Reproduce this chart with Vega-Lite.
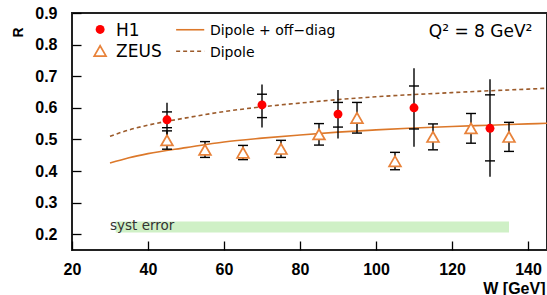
{
  "$schema": "https://vega.github.io/schema/vega-lite/v6.json",
  "width": 475,
  "height": 237,
  "autosize": {"type": "none"},
  "padding": {"left": 72, "top": 13, "right": 0, "bottom": 45},
  "background": "white",
  "config": {"view": {"stroke": "#222", "strokeWidth": 2}},
  "datasets": {
    "band": [{"W": 31.5, "W2": 135, "R": 0.205, "R2": 0.240}],
    "curves": [
      {"model": "Dipole", "W": 30, "R": 0.510}, {"model": "Dipole", "W": 35, "R": 0.530}, {"model": "Dipole", "W": 40, "R": 0.545},
      {"model": "Dipole", "W": 50, "R": 0.568}, {"model": "Dipole", "W": 60, "R": 0.588}, {"model": "Dipole", "W": 70, "R": 0.603},
      {"model": "Dipole", "W": 80, "R": 0.615}, {"model": "Dipole", "W": 90, "R": 0.626}, {"model": "Dipole", "W": 100, "R": 0.635},
      {"model": "Dipole", "W": 110, "R": 0.642}, {"model": "Dipole", "W": 120, "R": 0.648}, {"model": "Dipole", "W": 130, "R": 0.654},
      {"model": "Dipole", "W": 140, "R": 0.659}, {"model": "Dipole", "W": 145, "R": 0.662},
      {"model": "Dipole + off-diag", "W": 30, "R": 0.425}, {"model": "Dipole + off-diag", "W": 35, "R": 0.442}, {"model": "Dipole + off-diag", "W": 40, "R": 0.455},
      {"model": "Dipole + off-diag", "W": 50, "R": 0.474}, {"model": "Dipole + off-diag", "W": 60, "R": 0.492}, {"model": "Dipole + off-diag", "W": 70, "R": 0.504},
      {"model": "Dipole + off-diag", "W": 80, "R": 0.514}, {"model": "Dipole + off-diag", "W": 90, "R": 0.523}, {"model": "Dipole + off-diag", "W": 100, "R": 0.530},
      {"model": "Dipole + off-diag", "W": 110, "R": 0.536}, {"model": "Dipole + off-diag", "W": 120, "R": 0.541}, {"model": "Dipole + off-diag", "W": 130, "R": 0.545},
      {"model": "Dipole + off-diag", "W": 140, "R": 0.549}, {"model": "Dipole + off-diag", "W": 145, "R": 0.551}
    ],
    "h1": [
      {"W": 45, "R": 0.562}, {"W": 70, "R": 0.609}, {"W": 90, "R": 0.580}, {"W": 110, "R": 0.600}, {"W": 130, "R": 0.535}
    ],
    "h1tot": [
      {"W": 45, "R": 0.507, "R2": 0.616}, {"W": 70, "R": 0.538, "R2": 0.674}, {"W": 90, "R": 0.503, "R2": 0.656},
      {"W": 110, "R": 0.477, "R2": 0.725}, {"W": 130, "R": 0.382, "R2": 0.690}
    ],
    "h1caps": [
      {"W": 45, "R": 0.537}, {"W": 45, "R": 0.587},
      {"W": 70, "R": 0.569}, {"W": 70, "R": 0.643},
      {"W": 90, "R": 0.539}, {"W": 90, "R": 0.617},
      {"W": 110, "R": 0.533}, {"W": 110, "R": 0.669},
      {"W": 130, "R": 0.432}, {"W": 130, "R": 0.641}
    ],
    "zeus": [
      {"W": 45, "R": 0.497}, {"W": 55, "R": 0.467}, {"W": 65, "R": 0.458}, {"W": 75, "R": 0.470}, {"W": 85, "R": 0.516},
      {"W": 95, "R": 0.568}, {"W": 105, "R": 0.431}, {"W": 115, "R": 0.508}, {"W": 125, "R": 0.535}, {"W": 135, "R": 0.508}
    ],
    "zeusbar": [
      {"W": 45, "R": 0.469, "R2": 0.527}, {"W": 55, "R": 0.443, "R2": 0.493}, {"W": 65, "R": 0.436, "R2": 0.481},
      {"W": 75, "R": 0.443, "R2": 0.497}, {"W": 85, "R": 0.482, "R2": 0.550}, {"W": 95, "R": 0.520, "R2": 0.617},
      {"W": 105, "R": 0.404, "R2": 0.459}, {"W": 115, "R": 0.467, "R2": 0.549}, {"W": 125, "R": 0.488, "R2": 0.582},
      {"W": 135, "R": 0.462, "R2": 0.554}
    ],
    "zeuscaps": [
      {"W": 45, "R": 0.469}, {"W": 45, "R": 0.527}, {"W": 55, "R": 0.443}, {"W": 55, "R": 0.493},
      {"W": 65, "R": 0.436}, {"W": 65, "R": 0.481}, {"W": 75, "R": 0.443}, {"W": 75, "R": 0.497},
      {"W": 85, "R": 0.482}, {"W": 85, "R": 0.550}, {"W": 95, "R": 0.520}, {"W": 95, "R": 0.617},
      {"W": 105, "R": 0.404}, {"W": 105, "R": 0.459}, {"W": 115, "R": 0.467}, {"W": 115, "R": 0.549},
      {"W": 125, "R": 0.488}, {"W": 125, "R": 0.582}, {"W": 135, "R": 0.462}, {"W": 135, "R": 0.554}
    ]
  },
  "encoding": {
    "x": {"field": "W", "type": "quantitative",
      "scale": {"domain": [20, 145], "nice": false, "zero": false},
      "axis": {
        "title": "W [GeV]",
        "zindex": 1,
        "ticks": true,
        "domain": false,
        "offset": -9,
        "values": [20, 40, 60, 80, 100, 120, 140],
        "labelOverlap": false,
        "labelFlush": false,
        "tickSize": 9,
        "tickColor": "black", "tickWidth": 1.3, "tickOpacity": 1,
        "grid": false,
        "labels": true,
        "labelFont": "Liberation Sans", "labelFontWeight": "bold", "labelFontSize": 16, "labelColor": "black",
        "labelPadding": 11, "labelBaseline": "top",
        "titleFont": "Liberation Sans", "titleFontWeight": "bold", "titleFontSize": 16, "titleColor": "black",
        "titleAnchor": null, "titleAlign": "right", "titleBaseline": "alphabetic", "titleX": 473, "titleY": 52
      }},
    "y": {"field": "R", "type": "quantitative",
      "scale": {"domain": [0.15, 0.9], "nice": false, "zero": false},
      "axis": {
        "title": "R",
        "zindex": 1,
        "ticks": true,
        "domain": false,
        "offset": -9,
        "values": [0.2, 0.3, 0.4, 0.5, 0.6, 0.7, 0.8, 0.9],
        "format": ".1f",
        "labelOverlap": false,
        "labelFlush": false,
        "tickSize": 9,
        "tickColor": "black", "tickWidth": 1.3, "tickOpacity": 1,
        "grid": false,
        "labels": true,
        "labelFont": "Liberation Sans", "labelFontWeight": "bold", "labelFontSize": 16, "labelColor": "black",
        "labelPadding": 15,
        "titleFont": "Liberation Sans", "titleFontWeight": "bold", "titleFontSize": 14, "titleColor": "black",
        "titleAngle": -90, "titleAlign": "center", "titleBaseline": "middle", "titleX": -63, "titleY": 19
      }}
  },
  "layer": [
    {
      "data": {"name": "band"},
      "mark": {"type": "rect", "color": "#cff0c6"},
      "encoding": {"x2": {"field": "W2"}, "y2": {"field": "R2"}}
    },
    {
      "data": {"values": [{"W": 30, "R": 0.213, "t": "syst error"}]},
      "mark": {"type": "text", "align": "left", "baseline": "alphabetic", "font": "DejaVu Sans", "fontSize": 13.5, "color": "#333"},
      "encoding": {"text": {"field": "t"}}
    },
    {
      "data": {"name": "curves"},
      "transform": [{"filter": "datum.model === 'Dipole'"}],
      "mark": {"type": "line", "color": "#9c5b2b", "strokeWidth": 1.6, "strokeDash": [4, 3], "interpolate": "monotone"},
      "encoding": {}
    },
    {
      "data": {"name": "curves"},
      "transform": [{"filter": "datum.model === 'Dipole + off-diag'"}],
      "mark": {"type": "line", "color": "#dc782a", "strokeWidth": 1.6, "interpolate": "monotone"},
      "encoding": {}
    },
    {
      "data": {"name": "zeusbar"},
      "mark": {"type": "rule", "color": "black", "strokeWidth": 1.4},
      "encoding": {"y2": {"field": "R2"}}
    },
    {
      "data": {"name": "zeuscaps"},
      "mark": {"type": "tick", "orient": "horizontal", "color": "black", "size": 10, "thickness": 1.4, "opacity": 1},
      "encoding": {}
    },
    {
      "data": {"name": "h1tot"},
      "mark": {"type": "rule", "color": "black", "strokeWidth": 1.4},
      "encoding": {"y2": {"field": "R2"}}
    },
    {
      "data": {"name": "h1caps"},
      "mark": {"type": "tick", "orient": "horizontal", "color": "black", "size": 10, "thickness": 1.4, "opacity": 1},
      "encoding": {}
    },
    {
      "data": {"name": "zeus"},
      "mark": {"type": "point", "shape": "triangle-up", "filled": false, "fill": "white", "fillOpacity": 1, "stroke": "#e8823a", "strokeWidth": 1.7, "size": 140, "opacity": 1},
      "encoding": {}
    },
    {
      "data": {"name": "h1"},
      "mark": {"type": "point", "shape": "circle", "filled": true, "color": "#ff0000", "size": 80, "opacity": 1},
      "encoding": {}
    },
    {
      "data": {"values": [{"W": 27.4, "R": 0.848}]},
      "mark": {"type": "point", "shape": "circle", "filled": true, "color": "#ff0000", "size": 80, "opacity": 1},
      "encoding": {}
    },
    {
      "data": {"values": [{"W": 27.4, "R": 0.780}]},
      "mark": {"type": "point", "shape": "triangle-up", "filled": false, "stroke": "#e8823a", "strokeWidth": 1.7, "size": 140, "opacity": 1},
      "encoding": {}
    },
    {
      "data": {"values": [{"W": 47.4, "W2": 54.8, "R": 0.847}]},
      "mark": {"type": "rule", "color": "#dc782a", "strokeWidth": 1.6},
      "encoding": {"x2": {"field": "W2"}}
    },
    {
      "data": {"values": [{"W": 47.4, "W2": 54.8, "R": 0.779}]},
      "mark": {"type": "rule", "color": "#9c5b2b", "strokeWidth": 1.6, "strokeDash": [4, 3]},
      "encoding": {"x2": {"field": "W2"}}
    },
    {
      "data": {"values": [
        {"W": 31.6, "R": 0.828, "t": "H1"},
        {"W": 31.6, "R": 0.762, "t": "ZEUS"}
      ]},
      "mark": {"type": "text", "align": "left", "baseline": "alphabetic", "font": "DejaVu Sans", "fontSize": 17, "color": "black"},
      "encoding": {"text": {"field": "t"}}
    },
    {
      "data": {"values": [
        {"W": 56.3, "R": 0.830, "t": "Dipole + off−diag"},
        {"W": 56.3, "R": 0.761, "t": "Dipole"}
      ]},
      "mark": {"type": "text", "align": "left", "baseline": "alphabetic", "font": "DejaVu Sans", "fontSize": 14, "color": "black"},
      "encoding": {"text": {"field": "t"}}
    },
    {
      "data": {"values": [{"W": 113.9, "R": 0.823, "t": "Q² = 8 GeV²"}]},
      "mark": {"type": "text", "align": "left", "baseline": "alphabetic", "font": "DejaVu Sans", "fontSize": 17, "color": "black"},
      "encoding": {"text": {"field": "t"}}
    }
  ]
}
